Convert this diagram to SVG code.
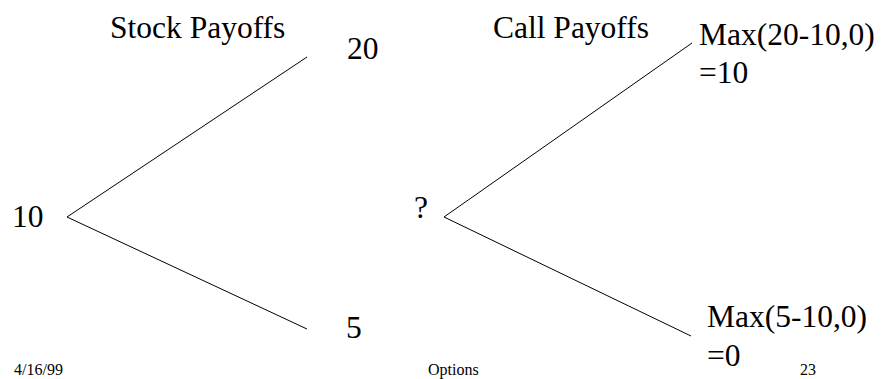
<svg xmlns="http://www.w3.org/2000/svg" width="882" height="379" viewBox="0 0 882 379">
<style>
text{font-family:'Liberation Serif','DejaVu Serif',serif;fill:#000}
.t{font-size:31.5px}
.f{font-size:16px}
.c{stroke:#000;stroke-width:1;fill:none}
</style>
<rect width="882" height="379" fill="#fff"/>
<g id="connectors">
<line class="c" x1="67" y1="217" x2="307" y2="57"/>
<line class="c" x1="67" y1="217" x2="307" y2="329"/>
<line class="c" x1="444" y1="217" x2="692" y2="43"/>
<line class="c" x1="444" y1="217" x2="691" y2="336"/>
</g>
<g id="titles">
<text class="t" x="110" y="38">Stock Payoffs</text>
<text class="t" x="493" y="38">Call Payoffs</text>
</g>
<g id="stock-root"><text class="t" x="12" y="227">10</text></g>
<g id="stock-up"><text class="t" x="347" y="59">20</text></g>
<g id="stock-down"><text class="t" x="346" y="338">5</text></g>
<g id="call-root"><text class="t" x="414" y="218">?</text></g>
<g id="call-up"><text class="t" x="699" y="45">Max(20-10,0)</text><text class="t" x="699" y="83">=10</text></g>
<g id="call-down"><text class="t" x="707" y="327">Max(5-10,0)</text><text class="t" x="707" y="366">=0</text></g>
<g id="footer">
<text class="f" x="14" y="375">4/16/99</text>
<text class="f" x="428" y="375">Options</text>
<text class="f" x="800" y="375">23</text>
</g>
</svg>
